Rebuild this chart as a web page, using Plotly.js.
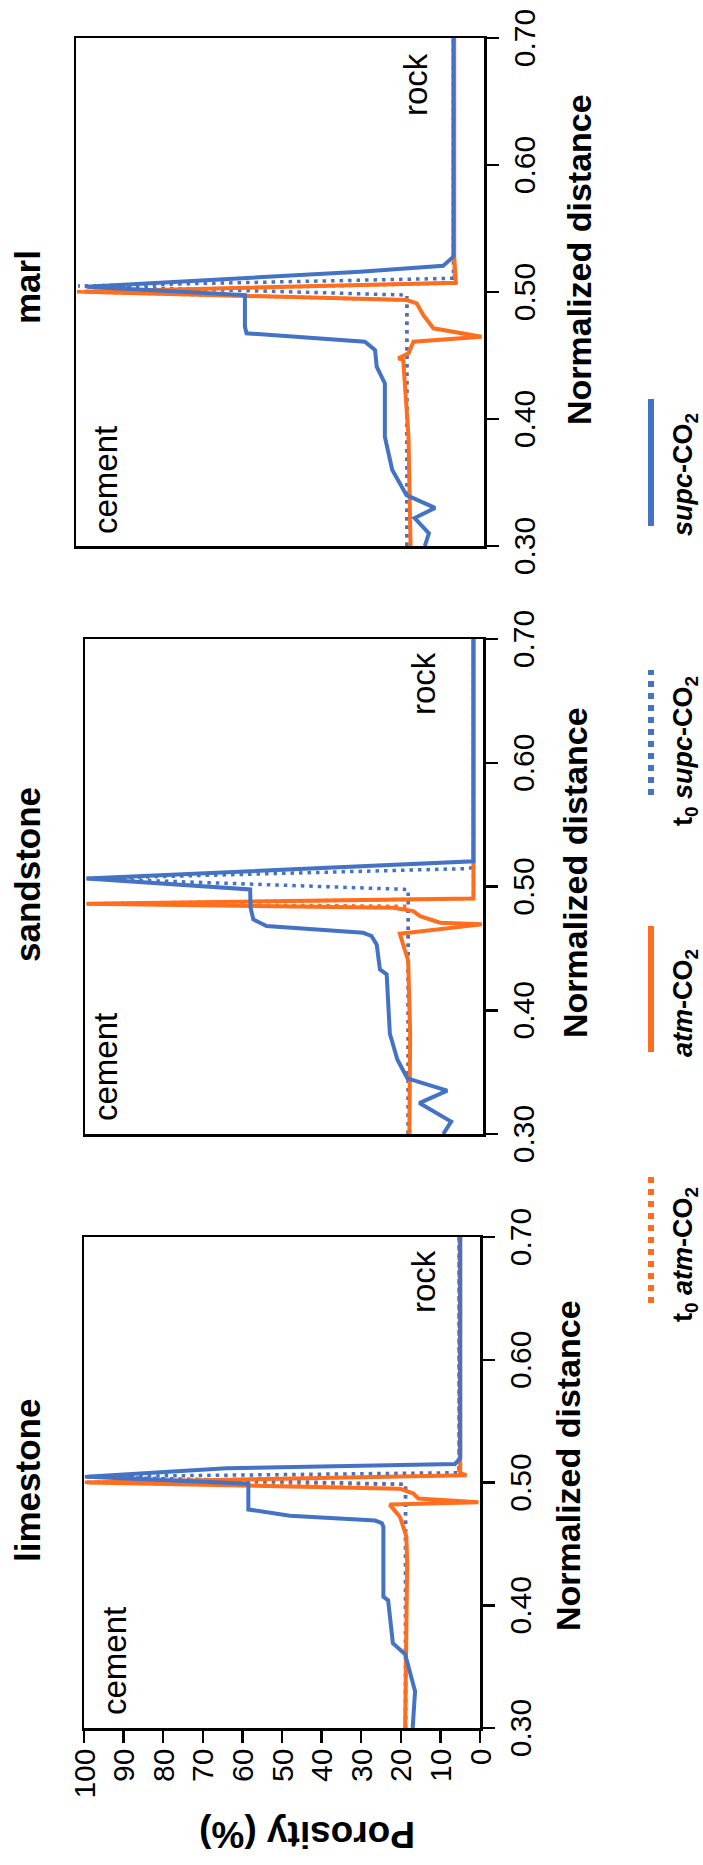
<!DOCTYPE html>
<html><head><meta charset="utf-8">
<script src="https://cdn.plot.ly/plotly-3.0.1.min.js"></script>
<style>
html,body{margin:0;padding:0;background:#fff;overflow:hidden;width:703px;height:1865px;}
#stage{position:relative;width:703px;height:1865px;overflow:hidden;background:#fff;}
#chart{position:absolute;left:0;top:0;width:1865px;height:703px;transform-origin:0 0;transform:translate(0px,1865px) rotate(-90deg);}
</style></head><body><div id="stage"><div id="chart"></div></div>
<script>
// ---------------- data ----------------
var panelNames = ["limestone", "sandstone", "marl"];
var seriesNames = ["t<sub>0</sub> <i>atm</i>-CO<sub>2</sub>", "<i>atm</i>-CO<sub>2</sub>", "t<sub>0</sub> <i>supc</i>-CO<sub>2</sub>", "<i>supc</i>-CO<sub>2</sub>"];
var xTickVals = [0.30, 0.40, 0.50, 0.60, 0.70];
var yTickVals = [0, 10, 20, 30, 40, 50, 60, 70, 80, 90, 100];

// limestone
var limeT0AtmX  = [0.300, 0.4985, 0.5002, 0.506, 0.700];
var limeT0AtmY  = [18.8, 18.8, 100, 5.3, 5.3];
var limeT0SupcX = [0.300, 0.4985, 0.5047, 0.508, 0.700];
var limeT0SupcY = [18.8, 18.8, 100, 5.3, 5.3];
var limeAtmX  = [0.300, 0.434, 0.456, 0.472, 0.482, 0.484, 0.487, 0.491, 0.495, 0.500, 0.506, 0.5075, 0.700];
var limeAtmY  = [18.9, 18.4, 18.6, 20.2, 22.8, 0.4, 15.6, 16.8, 20.2, 99.3, 3.4, 5.0, 5.0];
var limeSupcX = [0.300, 0.330, 0.360, 0.369, 0.404, 0.407, 0.464, 0.467, 0.469, 0.473, 0.478, 0.499, 0.5047, 0.5116, 0.5151, 0.5197, 0.700];
var limeSupcY = [17.0, 16.4, 18.9, 22.0, 23.2, 24.4, 24.4, 24.8, 26.5, 48.0, 58.5, 58.5, 99.3, 64.0, 6.3, 5.0, 5.0];

// sandstone
var sandT0AtmX  = [0.300, 0.484, 0.486, 0.4903, 0.700];
var sandT0AtmY  = [18.8, 18.8, 100, 2.4, 2.4];
var sandT0SupcX = [0.300, 0.4976, 0.5065, 0.5145, 0.5155, 0.700];
var sandT0SupcY = [18.8, 18.8, 100, 3.7, 2.4, 2.4];
var sandAtmX  = [0.300, 0.381, 0.440, 0.456, 0.4618, 0.4694, 0.4707, 0.4761, 0.4801, 0.4828, 0.486, 0.4903, 0.700];
var sandAtmY  = [18.5, 18.3, 18.8, 20.4, 20.9, 0.3, 10.8, 15.8, 17.5, 22.5, 99.6, 2.4, 2.4];
var sandSupcX = [0.300, 0.310, 0.325, 0.335, 0.345, 0.360, 0.381, 0.429, 0.433, 0.453, 0.460, 0.4626, 0.468, 0.4734, 0.4828, 0.4976, 0.5065, 0.5204, 0.700];
var sandSupcY = [10.0, 8.0, 16.0, 9.0, 19.0, 21.5, 23.4, 24.2, 25.9, 26.7, 28.0, 30.1, 54.4, 57.7, 58.4, 58.5, 99.6, 2.4, 2.4];

// marl
var marlT0AtmX  = [0.300, 0.4937, 0.5002, 0.507, 0.700];
var marlT0AtmY  = [18.9, 18.9, 100, 7.3, 7.3];
var marlT0SupcX = [0.300, 0.4976, 0.5047, 0.5108, 0.700];
var marlT0SupcY = [18.9, 18.9, 99.5, 7.5, 7.5];
var marlAtmX  = [0.300, 0.386, 0.4465, 0.4478, 0.4517, 0.4609, 0.4648, 0.4714, 0.4819, 0.4911, 0.4937, 0.5002, 0.5073, 0.528, 0.700];
var marlAtmY  = [18.0, 18.5, 19.8, 21.0, 18.5, 17.3, 0.6, 12.4, 14.9, 16.5, 18.9, 98.2, 6.9, 7.3, 7.3];
var marlSupcX = [0.300, 0.310, 0.322, 0.330, 0.340, 0.360, 0.386, 0.428, 0.436, 0.4412, 0.4543, 0.4609, 0.4675, 0.4727, 0.4976, 0.5042, 0.516, 0.5207, 0.5278, 0.700];
var marlSupcY = [14.5, 13.5, 17.0, 12.0, 19.0, 22.5, 24.3, 24.3, 25.5, 26.3, 26.7, 29.2, 58.2, 58.6, 58.6, 97.4, 30.4, 10.0, 7.5, 7.5];

// ---------------- drawing ----------------
var W = 1865, H = 703;
function px(x){ return x / W; }
function py(y){ return 1 - y / H; }
var FONT = "Liberation Sans, Arial, Helvetica, sans-serif";
var BLUE = "#4472C4", ORANGE = "#FF6E1E";

var panelData = [
  [limeT0AtmX, limeT0AtmY, limeAtmX, limeAtmY, limeT0SupcX, limeT0SupcY, limeSupcX, limeSupcY],
  [sandT0AtmX, sandT0AtmY, sandAtmX, sandAtmY, sandT0SupcX, sandT0SupcY, sandSupcX, sandSupcY],
  [marlT0AtmX, marlT0AtmY, marlAtmX, marlAtmY, marlT0SupcX, marlT0SupcY, marlSupcX, marlSupcY]
];
var axSuffix = ["", "2", "3"];
var traces = [];
panelData.forEach(function(d, i){
  var xa = "x" + axSuffix[i], ya = "y" + axSuffix[i];
  traces.push({x: d[0], y: d[1], xaxis: xa, yaxis: ya, mode: "lines", name: seriesNames[0], line: {color: ORANGE, width: 3.5, dash: "3.5px,5px"}, showlegend: false});
  traces.push({x: d[4], y: d[5], xaxis: xa, yaxis: ya, mode: "lines", name: seriesNames[2], line: {color: BLUE, width: 3.5, dash: "3.5px,5px"}, showlegend: false});
  traces.push({x: d[2], y: d[3], xaxis: xa, yaxis: ya, mode: "lines", name: seriesNames[1], line: {color: ORANGE, width: 4}, showlegend: false});
  traces.push({x: d[6], y: d[7], xaxis: xa, yaxis: ya, mode: "lines", name: seriesNames[3], line: {color: BLUE, width: 4}, showlegend: false});
});

var xDomains = [[137, 628], [731, 1226], [1319, 1827]];
var yDomains = [[480, 84], [483, 85], [484, 76]];

var layout = {
  width: W, height: H, autosize: false,
  margin: {l: 0, r: 0, t: 0, b: 0, pad: 0},
  paper_bgcolor: "#fff", plot_bgcolor: "#fff",
  showlegend: false,
  font: {family: FONT, color: "#000"},
  annotations: [], shapes: []
};
for (var i = 0; i < 3; i++) {
  var s = axSuffix[i];
  layout["xaxis" + s] = {
    domain: [px(xDomains[i][0]), px(xDomains[i][1])], anchor: "y" + s,
    range: [0.30, 0.70], tickvals: xTickVals, tickformat: ".2f",
    ticks: "outside", ticklen: 12, tickwidth: 2.5, tickcolor: "#000",
    showline: true, linewidth: 2.5, linecolor: "#000", mirror: true,
    showgrid: false, zeroline: false, fixedrange: true,
    tickfont: {family: FONT, size: 30, color: "#000"}
  };
  layout["yaxis" + s] = {
    domain: [py(yDomains[i][0]), py(yDomains[i][1])], anchor: "x" + s,
    range: [0, 100], tickvals: yTickVals,
    ticks: i === 0 ? "outside" : "", ticklen: 12, tickwidth: 2.5, tickcolor: "#000",
    showticklabels: i === 0,
    showline: true, linewidth: 2.5, linecolor: "#000", mirror: true,
    showgrid: false, zeroline: false, fixedrange: true,
    tickfont: {family: FONT, size: 30, color: "#000"}
  };
}

var titleX = [384, 990, 1578];
panelNames.forEach(function(n, i){
  layout.annotations.push({xref: "paper", yref: "paper", x: px(titleX[i]), y: py(28), xanchor: "center", yanchor: "middle",
    text: "<b>" + n + "</b>", showarrow: false, font: {family: FONT, size: 35, color: "#000"}});
});
var xtX = [399, 992, 1605], xtY = [568, 575, 579];
for (var i = 0; i < 3; i++) {
  layout.annotations.push({xref: "paper", yref: "paper", x: px(xtX[i]), y: py(xtY[i]), xanchor: "center", yanchor: "middle",
    text: "<b>Normalized distance</b>", showarrow: false, font: {family: FONT, size: 34, color: "#000"}});
}
layout.annotations.push({xref: "paper", yref: "paper", x: px(30), y: py(307), xanchor: "center", yanchor: "middle", textangle: -90,
  text: "<b>Porosity (%)</b>", showarrow: false, font: {family: FONT, size: 37, color: "#000"}});

var cementPos = [[0.309, 92.3], [0.309, 94.9], [0.308, 92.8]];
var rockPos = [[0.691, 14.3], [0.691, 15.0], [0.690, 16.8]];
for (var i = 0; i < 3; i++) {
  var s = axSuffix[i];
  layout.annotations.push({xref: "x" + s, yref: "y" + s, x: cementPos[i][0], y: cementPos[i][1], xanchor: "left", yanchor: "middle",
    text: "cement", showarrow: false, font: {family: FONT, size: 33, color: "#000"}});
  layout.annotations.push({xref: "x" + s, yref: "y" + s, x: rockPos[i][0], y: rockPos[i][1], xanchor: "right", yanchor: "middle",
    text: "rock", showarrow: false, font: {family: FONT, size: 33, color: "#000"}});
}

var legLine = [[562, 689], [813, 939], [1070, 1195], [1339, 1466]];
var legText = [610, 862, 1114, 1390];
var legColor = [ORANGE, ORANGE, BLUE, BLUE];
var legDash = ["dot", "solid", "dot", "solid"];
for (var k = 0; k < 4; k++) {
  layout.shapes.push({type: "line", xref: "paper", yref: "paper", x0: px(legLine[k][0]), x1: px(legLine[k][1]), y0: py(651), y1: py(651),
    line: {color: legColor[k], width: 6, dash: legDash[k]}});
  layout.annotations.push({xref: "paper", yref: "paper", x: px(legText[k]), y: py(685), xanchor: "center", yanchor: "middle",
    text: "<b>" + seriesNames[k] + "</b>", showarrow: false, font: {family: FONT, size: 27, color: "#000"}});
}

Plotly.newPlot("chart", traces, layout, {staticPlot: true, displayModeBar: false});
</script></body></html>
